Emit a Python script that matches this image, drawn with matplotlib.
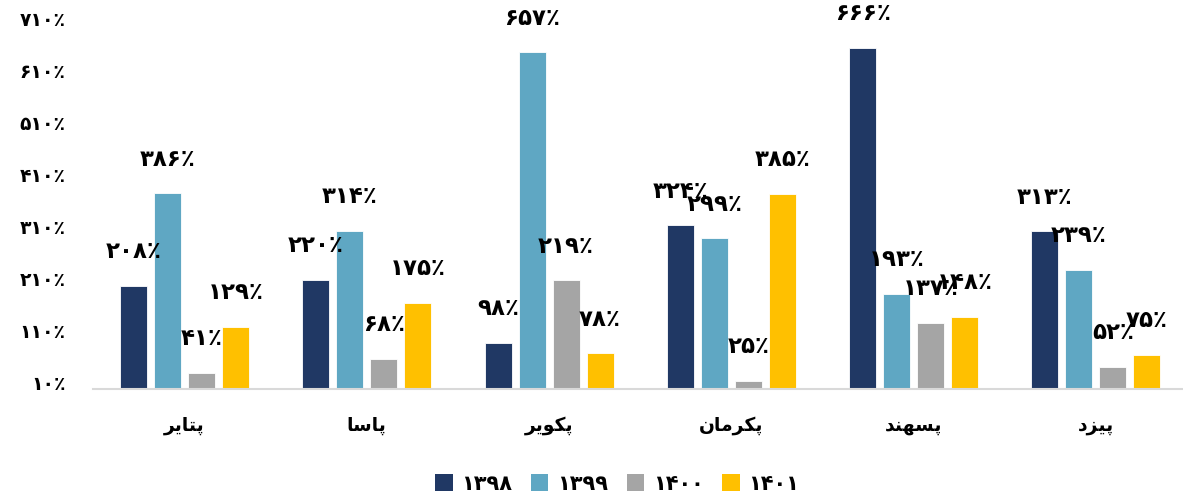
import matplotlib
matplotlib.use("Agg")
import matplotlib.pyplot as plt
import matplotlib.transforms as mtransforms
from matplotlib.patches import Patch
import numpy as np

# ---------------- data ----------------
categories = ["پتایر", "پاسا", "پکویر", "پکرمان", "پسهند", "پیزد"]
series_names = ["۱۳۹۸", "۱۳۹۹", "۱۴۰۰", "۱۴۰۱"]
v1398 = [208, 220, 98, 324, 666, 313]
v1399 = [386, 314, 657, 299, 193, 239]
v1400 = [41, 68, 219, 25, 137, 52]
v1401 = [129, 175, 78, 385, 148, 75]
y_ticks = [10, 110, 210, 310, 410, 510, 610, 710]

colors = ["#203864", "#5FA7C3", "#A5A5A5", "#FFC000"]

# ---------------- Arabic/Persian shaping helpers ----------------
# forms: isolated, final, initial, medial
FORMS = {
    "\u0627": ("\uFE8D", "\uFE8E", None, None),      # ا
    "\u067E": ("\uFB56", "\uFB57", "\uFB58", "\uFB59"),  # پ
    "\u062A": ("\uFE95", "\uFE96", "\uFE97", "\uFE98"),  # ت
    "\u06CC": ("\uFBFC", "\uFBFD", "\uFBFE", "\uFBFF"),  # ی
    "\u0631": ("\uFEAD", "\uFEAE", None, None),      # ر
    "\u0633": ("\uFEB1", "\uFEB2", "\uFEB3", "\uFEB4"),  # س
    "\u06A9": ("\uFB8E", "\uFB8F", "\uFB90", "\uFB91"),  # ک
    "\u0648": ("\uFEED", "\uFEEE", None, None),      # و
    "\u0645": ("\uFEE1", "\uFEE2", "\uFEE3", "\uFEE4"),  # م
    "\u0646": ("\uFEE5", "\uFEE6", "\uFEE7", "\uFEE8"),  # ن
    "\u0647": ("\uFEE9", "\uFEEA", "\uFEEB", "\uFEEC"),  # ه
    "\u062F": ("\uFEA9", "\uFEAA", None, None),      # د
    "\u0632": ("\uFEAF", "\uFEB0", None, None),      # ز
}


def dual(ch):
    return ch in FORMS and FORMS[ch][2] is not None


def shape(word):
    out = []
    n = len(word)
    for i, ch in enumerate(word):
        if ch not in FORMS:
            out.append(ch)
            continue
        cp = i > 0 and dual(word[i - 1])
        cn = i < n - 1 and dual(ch) and word[i + 1] in FORMS
        f = FORMS[ch]
        if cp and cn:
            g = f[3]
        elif cp:
            g = f[1]
        elif cn:
            g = f[2]
        else:
            g = f[0]
        out.append(g)
    return "".join(reversed(out))


PD = "۰۱۲۳۴۵۶۷۸۹"


def fa_num(v):
    return "".join(PD[int(c)] for c in str(v))


def pct(v):
    return fa_num(v) + "\u066A"


# ---------------- plotting ----------------
FONT = ["DejaVu Sans"]
plt.rcParams["font.family"] = FONT

fig = plt.figure(figsize=(11.83, 5.0), dpi=100)
left = 93.3 / 1183
right = 1187 / 1183
bottom = (500 - 388.7) / 500
top = (500 - 24.7) / 500
ax = fig.add_axes([left, bottom, right - left, top - bottom])

series = [v1398, v1399, v1400, v1401]
x = np.arange(len(categories))
pitch = 34 / 182.3
width = 27 / 182.3
for k, vals in enumerate(series):
    offs = (k - 1.5) * pitch
    ax.bar(x + offs, np.array(vals) - 10, width=width, bottom=10,
           color=colors[k], edgecolor="white", linewidth=0.6, zorder=2)
    for xi, v in zip(x + offs, vals):
        ax.annotate(pct(v), xy=(xi, v), xytext=(0, 34), textcoords="offset pixels",
                    ha="center", va="center", fontsize=16.5, fontweight="bold",
                    color="black", zorder=3)

ax.set_xlim(-0.5, len(categories) - 0.5)
ax.set_ylim(10, 710)
ax.set_yticks(y_ticks)
ax.set_yticklabels([pct(t) for t in y_ticks], fontsize=13.5, fontweight="bold")
ax.set_xticks(x)
ax.set_xticklabels([shape(c) for c in categories], fontsize=13.5, fontweight="bold")

for s in ["top", "right", "left"]:
    ax.spines[s].set_visible(False)
ax.spines["bottom"].set_color("#D9D9D9")
ax.spines["bottom"].set_linewidth(1.5)
ax.tick_params(axis="both", length=0)
ax.tick_params(axis="y", pad=20)
ax.tick_params(axis="x", pad=20)

shift = mtransforms.ScaledTranslation(0, 6 / 100, fig.dpi_scale_trans)
for lab in ax.get_yticklabels():
    lab.set_transform(lab.get_transform() + shift)

handles = [Patch(facecolor=c, edgecolor="none") for c in colors]
fig.legend(handles, series_names, loc="center", bbox_to_anchor=(617 / 1183, 1 - 484 / 500),
           ncol=4, frameon=False, prop={"weight": "bold", "size": 15},
           handlelength=0.85, handleheight=0.85, handletextpad=0.4, columnspacing=0.9)

fig.savefig("out.png", dpi=100)
